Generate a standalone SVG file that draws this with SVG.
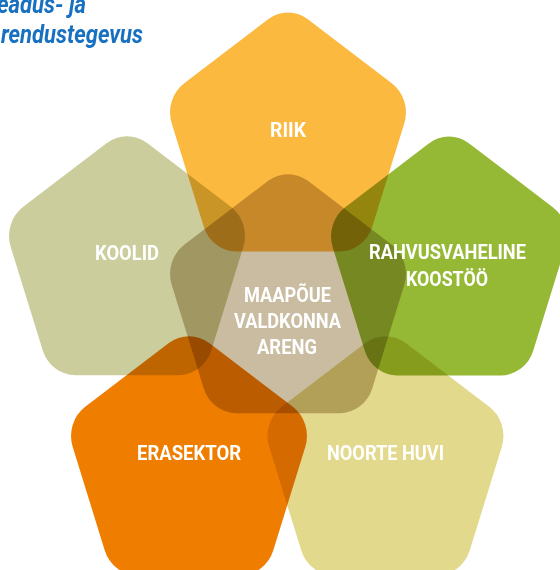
<svg xmlns="http://www.w3.org/2000/svg" xmlns:xlink="http://www.w3.org/1999/xlink" width="560" height="570" viewBox="0 0 560 570">
  <style>
    .p { mix-blend-mode: multiply; }
    .lbl { font-family: Roboto, "Liberation Sans", sans-serif; font-weight: bold; font-size: 21px; fill: #ffffff; text-anchor: middle; }
    .ttl { font-family: Roboto, "Liberation Sans", sans-serif; font-weight: bold; font-style: italic; font-size: 25px; fill: #1770C0; }
  </style>
  <defs>
    <path id="pent" d="M -21.16,-121.42 A 36 36 0 0 1 21.16,-121.42 L 108.94,-57.65 A 36 36 0 0 1 122.02,-17.39 L 88.49,85.79 A 36 36 0 0 1 54.25,110.67 L -54.25,110.67 A 36 36 0 0 1 -88.49,85.79 L -122.02,-17.39 A 36 36 0 0 1 -108.94,-57.65 Z"/>
  </defs>
  <rect x="0" y="0" width="560" height="570" fill="#ffffff"/>
  <g id="title">
    <text class="ttl" x="-3" y="12.5" textLength="89" lengthAdjust="spacingAndGlyphs">eadus- ja</text>
    <text class="ttl" x="1" y="42.5" textLength="142" lengthAdjust="spacingAndGlyphs">rendustegevus</text>
  </g>
  <g id="node-center">
    <use href="#pent" class="p" fill="#C9BCA0" transform="translate(288,302.5) scale(0.9527,1)"/>
    <text class="lbl" x="287.5" y="301.5" textLength="87" lengthAdjust="spacingAndGlyphs">MAAPÕUE</text>
    <text class="lbl" x="287.5" y="327.5" textLength="107" lengthAdjust="spacingAndGlyphs">VALDKONNA</text>
    <text class="lbl" x="287" y="354" textLength="60" lengthAdjust="spacingAndGlyphs">ARENG</text>
  </g>
  <g id="node-riik">
    <use href="#pent" class="p" fill="#FBB940" transform="translate(288,140.8) scale(0.9527,1)"/>
    <text class="lbl" x="288" y="137" textLength="36" lengthAdjust="spacingAndGlyphs">RIIK</text>
  </g>
  <g id="node-koolid">
    <use href="#pent" class="p" fill="#CCCD9C" transform="translate(127,264.5) scale(0.9527,1)"/>
    <text class="lbl" x="127" y="260" textLength="64" lengthAdjust="spacingAndGlyphs">KOOLID</text>
  </g>
  <g id="node-rahvusvaheline">
    <use href="#pent" class="p" fill="#95B835" transform="translate(449,264.8) scale(0.9527,1)"/>
    <text class="lbl" x="447.5" y="259" textLength="157" lengthAdjust="spacingAndGlyphs">RAHVUSVAHELINE</text>
    <text class="lbl" x="447" y="286" textLength="82" lengthAdjust="spacingAndGlyphs">KOOSTÖÖ</text>
  </g>
  <g id="node-erasektor">
    <use href="#pent" class="p" fill="#EF7D00" transform="translate(189,464.5) scale(0.9527,1)"/>
    <text class="lbl" x="189" y="460" textLength="104" lengthAdjust="spacingAndGlyphs">ERASEKTOR</text>
  </g>
  <g id="node-noorte">
    <use href="#pent" class="p" fill="#E3D98C" transform="translate(385.5,464.5) scale(0.9527,1)"/>
    <text class="lbl" x="385.5" y="460" textLength="117" lengthAdjust="spacingAndGlyphs">NOORTE HUVI</text>
  </g>
  <g id="connectors"/>
</svg>
